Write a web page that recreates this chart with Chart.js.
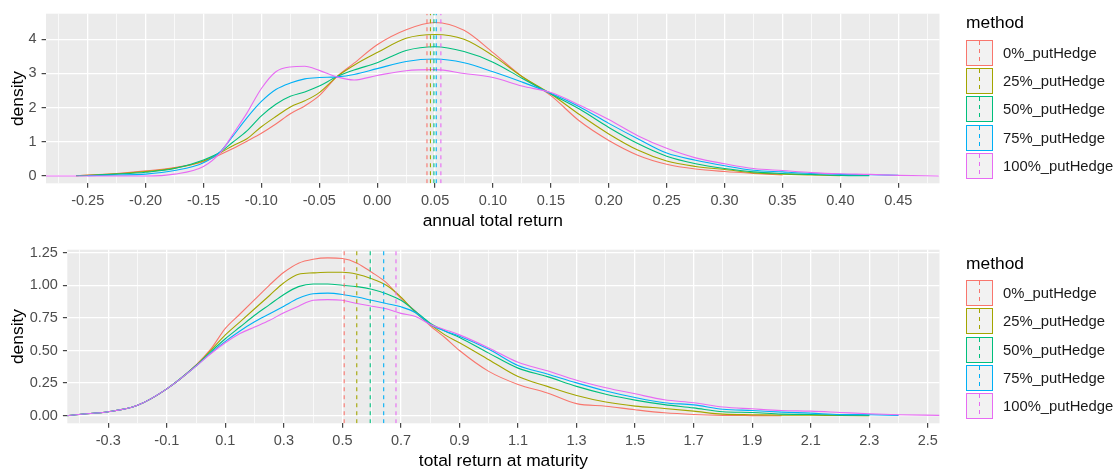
<!DOCTYPE html>
<html>
<head>
<meta charset="utf-8">
<script src="https://cdn.jsdelivr.net/npm/chart.js@4.4.0/dist/chart.umd.min.js"></script>
<style>
  body { margin: 0; background: #fff; width: 1120px; height: 472px; overflow: hidden; font-family: "Liberation Sans", Arial, sans-serif; position: relative; }
  canvas.panel { position: absolute; left: 0; }
  .legend { position: absolute; left: 966px; width: 150px; }
  .legend .ttl { position: absolute; left: 0; font-size: 17.4px; line-height: 20px; color: #000; white-space: nowrap; }
  .legend .key { position: absolute; left: 0; width: 25px; height: 24px; border: 1px solid; background: #f2f2f2; }
  .legend .key i { position: absolute; left: 12px; top: 0; width: 1px; height: 24px; }
  .legend .lab { position: absolute; left: 37px; font-size: 14.8px; line-height: 26px; color: #1a1a1a; white-space: nowrap; }
</style>
</head>
<body>
<canvas id="top" class="panel" width="1120" height="236" style="top:0"></canvas>
<canvas id="bottom" class="panel" width="1120" height="236" style="top:236px"></canvas>
<div id="legTop" class="legend" style="top:0"></div>
<div id="legBottom" class="legend" style="top:236px"></div>
<script>
const methods = ['0%_putHedge', '25%_putHedge', '50%_putHedge', '75%_putHedge', '100%_putHedge'];
const colors = ['#F8766D', '#A3A500', '#00BF7D', '#00B0F6', '#E76BF3'];

// annual total return
const topX = [-0.286, -0.26, -0.25, -0.225, -0.2, -0.175, -0.15, -0.135, -0.125, -0.1125, -0.1, -0.0875, -0.075, -0.0625, -0.05, -0.035, -0.02, 0, 0.025, 0.05, 0.075, 0.1, 0.125, 0.15, 0.175, 0.2, 0.225, 0.25, 0.275, 0.3, 0.325, 0.35, 0.375, 0.4, 0.425, 0.45, 0.485];
const topRed   = [null, 0.01, 0.03, 0.075, 0.15, 0.25, 0.42, 0.64, 0.80, 1.02, 1.25, 1.52, 1.82, 2.05, 2.35, 2.90, 3.30, 3.84, 4.28, 4.49, 4.26, 3.61, 2.91, 2.35, 1.60, 1.04, 0.61, 0.345, 0.205, 0.13, 0.075, 0.03, null, null, null, null, null];
const topOlive = [null, 0.01, 0.02, 0.065, 0.13, 0.23, 0.44, 0.69, 0.88, 1.09, 1.44, 1.74, 2.02, 2.20, 2.44, 2.90, 3.24, 3.61, 4.03, 4.14, 4.00, 3.52, 2.91, 2.40, 1.79, 1.23, 0.76, 0.44, 0.28, 0.19, 0.093, 0.055, 0.03, 0.01, null, null, null];
const topGreen = [null, 0.01, 0.015, 0.055, 0.11, 0.22, 0.47, 0.71, 0.98, 1.32, 1.76, 2.10, 2.33, 2.46, 2.63, 2.90, 3.10, 3.31, 3.67, 3.78, 3.64, 3.33, 2.86, 2.40, 1.95, 1.42, 0.95, 0.58, 0.36, 0.22, 0.12, 0.075, 0.047, 0.02, 0.01, null, null];
const topBlue  = [null, null, 0.01, 0.03, 0.055, 0.16, 0.39, 0.73, 1.15, 1.70, 2.18, 2.53, 2.72, 2.84, 2.88, 2.90, 2.97, 3.14, 3.35, 3.42, 3.31, 3.05, 2.75, 2.42, 2.02, 1.54, 1.09, 0.67, 0.46, 0.30, 0.17, 0.12, 0.075, 0.047, 0.037, 0.02, null];
const topPink  = [0, 0, 0, 0, 0, 0.055, 0.28, 0.70, 1.20, 1.84, 2.56, 3.05, 3.19, 3.21, 3.09, 2.90, 2.81, 2.94, 3.08, 3.11, 3.00, 2.88, 2.63, 2.44, 2.07, 1.65, 1.18, 0.81, 0.53, 0.36, 0.22, 0.16, 0.10, 0.065, 0.047, 0.02, 0];
const topMeans = [0.043, 0.046, 0.049, 0.051, 0.055];
const topXTicks = [-0.25, -0.2, -0.15, -0.1, -0.05, 0, 0.05, 0.1, 0.15, 0.2, 0.25, 0.3, 0.35, 0.4, 0.45];
const topYTicks = [0, 1, 2, 3, 4];

// total return at maturity
const botX = [-0.44, -0.4, -0.3, -0.2, -0.1, 0, 0.05, 0.1, 0.15, 0.2, 0.25, 0.3, 0.35, 0.4, 0.45, 0.5, 0.55, 0.6, 0.65, 0.7, 0.75, 0.8, 0.85, 0.9, 1.0, 1.1, 1.2, 1.3, 1.4, 1.5, 1.6, 1.7, 1.8, 1.9, 2.0, 2.1, 2.2, 2.3, 2.4, 2.54];
const botRed   = [0, 0.01, 0.03, 0.08, 0.206, 0.39, 0.51, 0.67, 0.78, 0.89, 1.00, 1.10, 1.17, 1.20, 1.21, 1.205, 1.17, 1.10, 1.02, 0.90, 0.80, 0.69, 0.60, 0.50, 0.34, 0.24, 0.175, 0.093, 0.073, 0.046, 0.023, 0.01, 0.003, 0.001, 0, null, null, null, null, null];
const botOlive = [0, 0.01, 0.03, 0.08, 0.206, 0.385, 0.50, 0.62, 0.72, 0.82, 0.92, 1.02, 1.085, 1.095, 1.10, 1.10, 1.085, 1.05, 1.00, 0.91, 0.79, 0.70, 0.62, 0.56, 0.43, 0.30, 0.225, 0.155, 0.105, 0.074, 0.056, 0.035, 0.012, 0.008, 0.005, 0.004, 0.002, 0.001, null, null];
const botGreen = [0, 0.01, 0.03, 0.08, 0.206, 0.385, 0.49, 0.59, 0.68, 0.77, 0.85, 0.93, 0.99, 1.01, 1.01, 1.00, 0.99, 0.97, 0.935, 0.885, 0.80, 0.71, 0.65, 0.60, 0.48, 0.365, 0.30, 0.225, 0.165, 0.12, 0.085, 0.06, 0.03, 0.025, 0.012, 0.01, 0.005, 0.003, null, null];
const botBlue  = [0, 0.01, 0.03, 0.08, 0.206, 0.38, 0.48, 0.57, 0.65, 0.72, 0.78, 0.84, 0.90, 0.935, 0.94, 0.93, 0.91, 0.885, 0.86, 0.835, 0.79, 0.70, 0.65, 0.61, 0.51, 0.385, 0.32, 0.252, 0.19, 0.14, 0.10, 0.083, 0.05, 0.04, 0.028, 0.02, 0.01, 0.008, 0.003, null];
const botPink  = [0, 0.01, 0.03, 0.08, 0.206, 0.38, 0.475, 0.56, 0.63, 0.68, 0.73, 0.79, 0.84, 0.885, 0.89, 0.885, 0.86, 0.84, 0.82, 0.785, 0.76, 0.70, 0.66, 0.62, 0.52, 0.41, 0.345, 0.272, 0.215, 0.168, 0.122, 0.10, 0.067, 0.053, 0.04, 0.035, 0.025, 0.015, 0.008, 0.003];
const botMeans = [0.506, 0.549, 0.595, 0.641, 0.683];
const botXTicks = [-0.3, -0.1, 0.1, 0.3, 0.5, 0.7, 0.9, 1.1, 1.3, 1.5, 1.7, 1.9, 2.1, 2.3, 2.5];
const botYTicks = [0, 0.25, 0.5, 0.75, 1.0, 1.25];

const FONT = '"Liberation Sans", Arial, sans-serif';

// majors + half-way minors
function withMinors(majors) {
    const step = majors[1] - majors[0];
    const out = [{value: majors[0] - step / 2, minor: true}];
    majors.forEach((v, i) => {
        out.push({value: v});
        out.push({value: v + step / 2, minor: true});
    });
    return out;
}

const panelBg = {
    id: 'panelBg',
    beforeDraw(chart) {
        const {ctx, chartArea: {left, top, width, height}} = chart;
        ctx.save();
        ctx.fillStyle = '#EBEBEB';
        ctx.fillRect(left, top, width, height);
        ctx.restore();
    }
};

function makePanel(canvas, p) {
    const series = [p.red, p.olive, p.green, p.blue, p.pink];
    const datasets = [];
    series.forEach((vals, i) => {
        datasets.push({
            label: methods[i],
            data: p.x.map((x, k) => ({x: x, y: vals[k]})).filter(d => d.y !== null),
            borderColor: colors[i],
            borderWidth: 1.1,
            pointRadius: 0,
            showLine: true,
            cubicInterpolationMode: 'monotone',
            order: 9 - i
        });
    });
    p.means.forEach((m, i) => {
        datasets.push({
            label: methods[i] + ' mean',
            data: [{x: m, y: p.yMin}, {x: m, y: p.yMax}],
            borderColor: colors[i],
            borderWidth: 1.1,
            borderDash: [4, 4],
            pointRadius: 0,
            showLine: true,
            order: 4 - i
        });
    });

    const tickFont = {family: FONT, size: 14.5};
    const grid = {
        color: '#ffffff',
        lineWidth: c => (c.tick && c.tick.minor) ? 0.7 : 1.3,
        tickColor: c => (c.tick && c.tick.minor) ? 'rgba(0,0,0,0)' : '#333333',
        tickWidth: 1.1,
        tickLength: 4.4,
        drawTicks: true
    };

    new Chart(canvas, {
        type: 'scatter',
        data: {datasets: datasets},
        options: {
            responsive: false,
            animation: false,
            events: [],
            layout: {padding: {top: p.padTop, right: 1120 - p.right, left: 0, bottom: 0}},
            plugins: {legend: {display: false}, tooltip: {enabled: false}},
            scales: {
                x: {
                    type: 'linear',
                    min: p.xMin,
                    max: p.xMax,
                    afterBuildTicks: s => { s.ticks = withMinors(p.xTicks); },
                    afterFit: s => { s.height = p.xAxisH; },
                    grid: grid,
                    border: {display: false},
                    ticks: {
                        autoSkip: false, maxRotation: 0, padding: 5, color: '#4D4D4D', font: tickFont,
                        callback: (v, i, t) => t[i].minor ? '' : v.toFixed(p.xDec)
                    },
                    title: {display: true, text: p.xTitle, color: '#000', font: {family: FONT, size: 17.4}, padding: {top: 0, bottom: p.titlePad}}
                },
                y: {
                    type: 'linear',
                    min: p.yMin,
                    max: p.yMax,
                    afterBuildTicks: s => { s.ticks = withMinors(p.yTicks).filter(t => t.value < p.yMax && t.value > p.yMin); },
                    afterFit: s => { s.width = p.left; },
                    grid: grid,
                    border: {display: false},
                    ticks: {
                        padding: 5, color: '#4D4D4D', font: tickFont,
                        callback: (v, i, t) => t[i].minor ? '' : v.toFixed(p.yDec)
                    },
                    title: {display: true, text: 'density', color: '#000', font: {family: FONT, size: 17.4}, padding: {top: 8, bottom: 0}}
                }
            }
        },
        plugins: [panelBg]
    });
}

makePanel(document.getElementById('top'), {
    x: topX, red: topRed, olive: topOlive, green: topGreen, blue: topBlue, pink: topPink, means: topMeans,
    xTicks: topXTicks, yTicks: topYTicks, xDec: 2, yDec: 0,
    xMin: -0.286, xMax: 0.4856, yMin: -0.213, yMax: 4.747,
    left: 46, right: 939.5, padTop: 6, xAxisH: 52.7, titlePad: 4,
    xTitle: 'annual total return'
});

makePanel(document.getElementById('bottom'), {
    x: botX, red: botRed, olive: botOlive, green: botGreen, blue: botBlue, pink: botPink, means: botMeans,
    xTicks: botXTicks, yTicks: botYTicks, xDec: 1, yDec: 2,
    xMin: -0.44, xMax: 2.54, yMin: -0.058, yMax: 1.273,
    left: 67.3, right: 939.5, padTop: 10.7, xAxisH: 48.7, titlePad: 0,
    xTitle: 'total return at maturity'
});

function makeLegend(el, titleTop, keysTop) {
    let html = `<div class="ttl" style="top:${titleTop}px">method</div>`;
    methods.forEach((m, i) => {
        const y = keysTop + i * 28.3;
        html += `<div class="key" style="top:${y}px;border-color:${colors[i]}"><i style="background:repeating-linear-gradient(to bottom, ${colors[i]} 0 4px, transparent 4px 8px)"></i></div>`;
        html += `<div class="lab" style="top:${y}px">${m}</div>`;
    });
    el.innerHTML = html;
}

makeLegend(document.getElementById('legTop'), 12, 39.7);
makeLegend(document.getElementById('legBottom'), 17, 44);
</script>
</body>
</html>
